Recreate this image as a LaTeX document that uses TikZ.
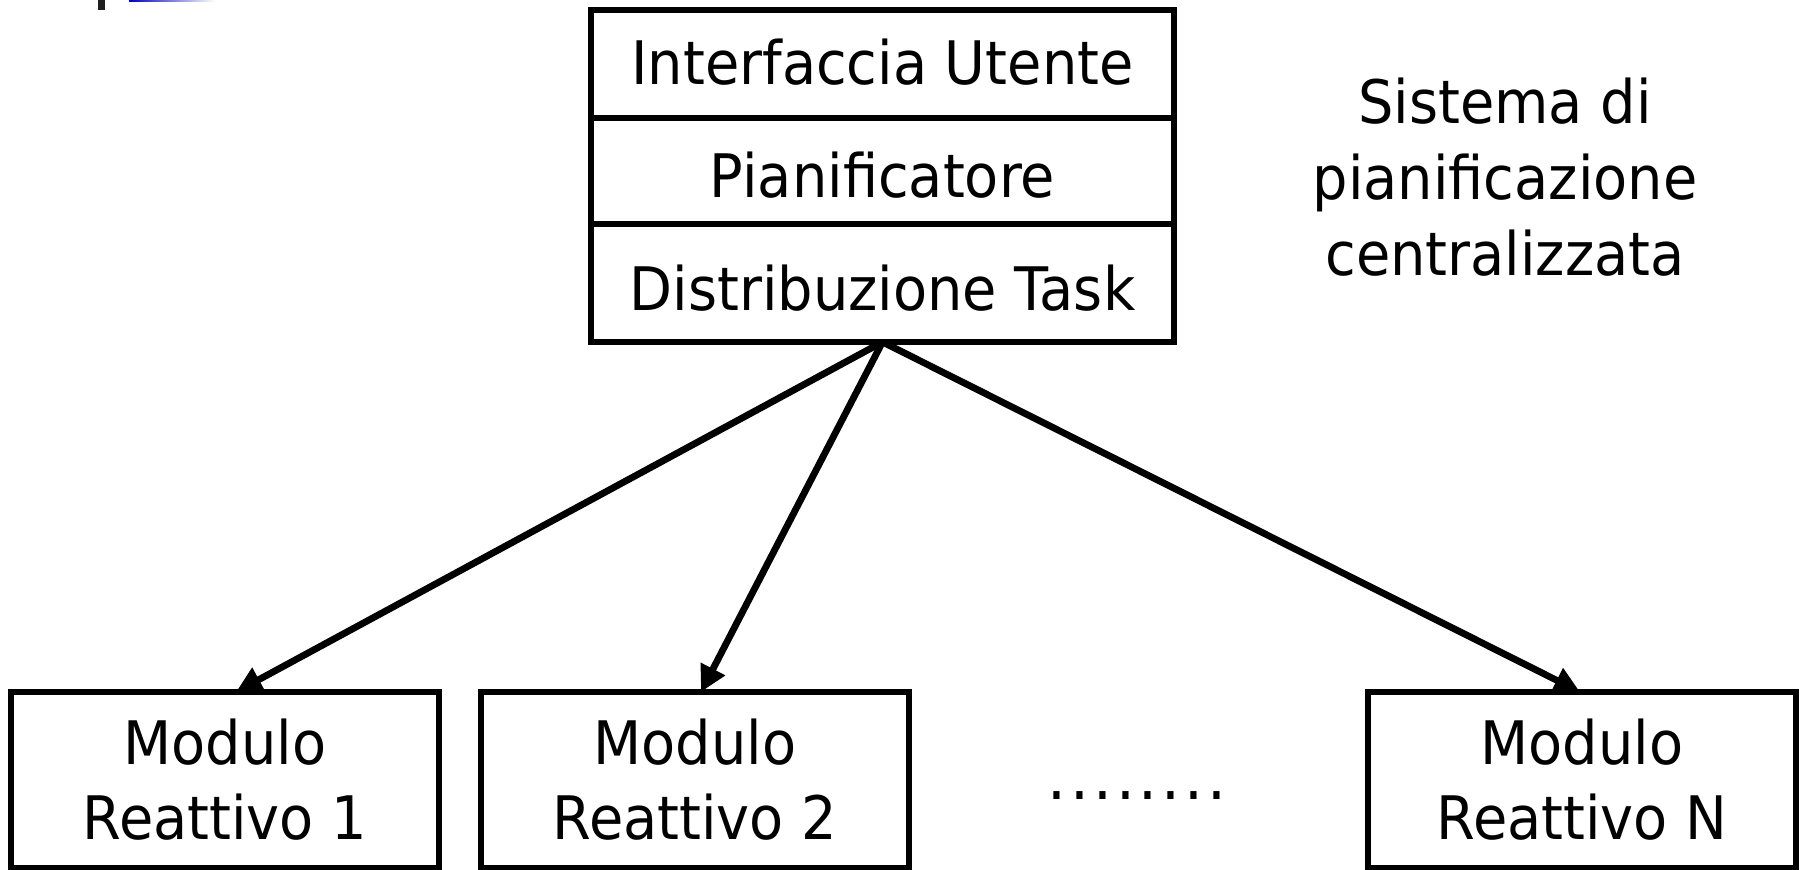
\documentclass[tikz,border=0pt]{standalone}
\usepackage{fontspec}
\setmainfont{DejaVu Sans}[FakeStretch=0.93]
\usetikzlibrary{arrows.meta,calc}
\begin{document}
\begin{tikzpicture}[x=0.5pt,y=-0.5pt,
  box/.style={draw,line width=3pt,inner sep=0pt,outer sep=0pt,font=\fontsize{30}{37.5}\selectfont,align=center},
  modbox/.style={box,minimum width=214pt,minimum height=88pt},
  arr/.style={line width=3.4pt,-{Triangle[length=13pt,width=13pt]}},
  lbl/.style={font=\fontsize{30}{37.5}\selectfont,align=center,inner sep=0pt}]
\useasboundingbox (0,0) rectangle (1802,870);
% slide artefacts at the top left
\fill[black!88] (98,0) rectangle (105,10);
\shade[left color=blue!75!black,right color=white] (129,0) rectangle (215,2);
% central stack
\node[box,minimum width=291.5pt,minimum height=54pt] (ui) at (882.5,64) {};
\node[box,minimum width=291.5pt,minimum height=53pt] (plan) at (882.5,171) {};
\node[box,minimum width=291.5pt,minimum height=59pt] (dist) at (882.5,283) {};
\node[lbl] (uit) at ($(ui)+(0,-2)$) {Interfaccia Utente};
\node[lbl] (plant) at ($(plan)+(0,4)$) {Pianificatore};
\node[lbl] (distt) at ($(dist)+(0,5)$) {Distribuzione Task};
% side label
\node[lbl,font=\fontsize{30}{38}\selectfont] (sys) at (1505,177) {Sistema di\\pianificazione\\centralizzata};
% modules
\node[modbox] (m1) at (225,780) {Modulo\\Reattivo 1};
\node[modbox] (m2) at (695,780) {Modulo\\Reattivo 2};
\node[modbox] (mn) at (1582,780) {Modulo\\Reattivo N};
\node[lbl,anchor=base,font=\fontsize{32}{37.5}\selectfont] (dots) at (1137,799) {.\kern2pt.\kern2pt.\kern2pt.\kern2pt.\kern2pt.\kern2pt.\kern2pt.};
% connectors
\draw[arr] (dist.south) -- ($(m1.north)+(11,0)$);
\draw[arr] (dist.south) -- ($(m2.north)+(6,0)$);
\draw[arr] (dist.south) -- ($(mn.north)+(-2,0)$);
\end{tikzpicture}
\end{document}
